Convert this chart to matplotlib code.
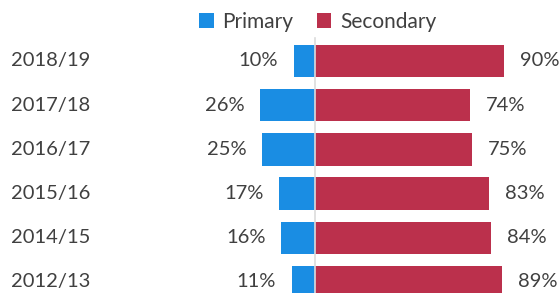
import matplotlib.pyplot as plt
import numpy as np

# data, top row first
years = ["2018/19", "2017/18", "2016/17", "2015/16", "2014/15", "2012/13"]
primary = [10, 26, 25, 17, 16, 11]
secondary = [90, 74, 75, 83, 84, 89]

blue = "#1a8de3"
red = "#bb304c"
txt = "#404040"

plt.rcParams["font.family"] = ["Lato", "DejaVu Sans"]

fig = plt.figure(figsize=(5.59, 2.93), dpi=100)
ax = fig.add_axes([0, 0, 1, 1])

y = np.arange(len(years))
h = 0.73
ax.barh(y, [-p for p in primary], height=h, color=blue, label="Primary")
ax.barh(y, secondary, height=h, color=red, label="Secondary")

# thin centre line
ax.axvline(0, ymin=0, ymax=0.87, color="#dcdcdc", lw=1.2, zorder=3)

gap = 7.5
for yi, yr, p, s in zip(y, years, primary, secondary):
    ax.text(0.02, yi, yr, transform=ax.get_yaxis_transform(), ha="left",
            va="center", fontsize=14.5, color=txt)
    ax.text(-p - gap, yi, f"{p}%", ha="right", va="center", fontsize=14.5, color=txt)
    ax.text(s + gap, yi, f"{s}%", ha="left", va="center", fontsize=14.5, color=txt)

ax.set_xlim(-150, 116.2)
ax.set_ylim(5.25, -1.38)
ax.axis("off")

fig.legend(loc="center", bbox_to_anchor=(0.568, 0.926), ncol=2, frameon=False,
           handlelength=0.7, handleheight=0.7, handletextpad=0.4, columnspacing=1.15,
           prop={"size": 15}, labelcolor=txt)

fig.savefig("out.png", dpi=100, facecolor="white")
